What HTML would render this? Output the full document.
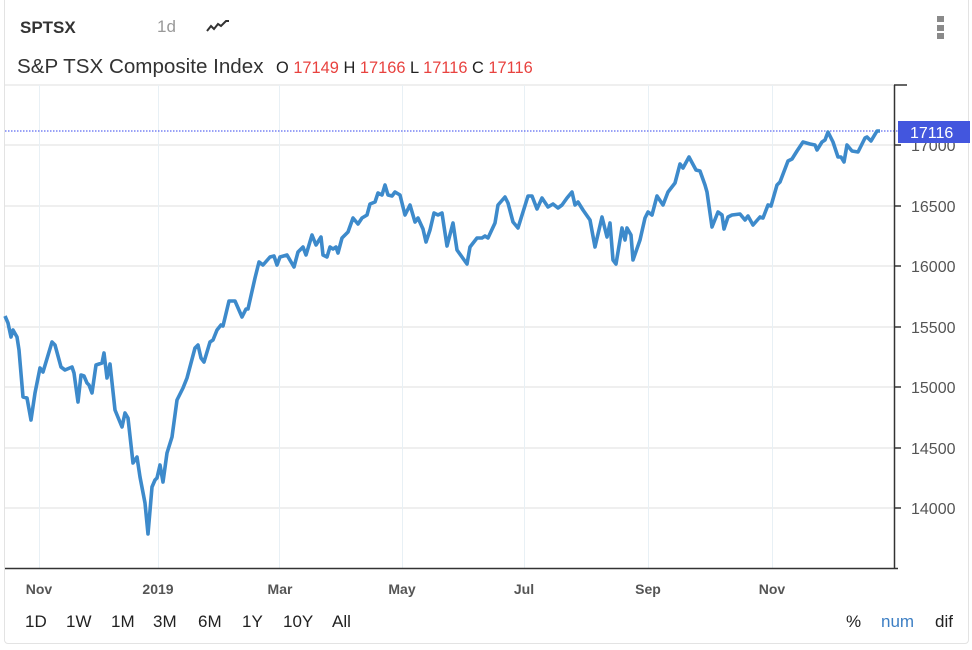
<!DOCTYPE html>
<html><head><meta charset="utf-8"><style>
html,body{margin:0;padding:0;background:#fff;}
body{width:972px;height:650px;position:relative;overflow:hidden;font-family:"Liberation Sans",sans-serif;}
.card{position:absolute;left:4px;top:-4px;width:965px;height:648px;border:1px solid #e3e3e3;border-radius:4px;box-sizing:border-box;}
.t{position:absolute;white-space:nowrap;}
</style></head><body>
<div class="card"></div>
<div class="t" style="left:20px;top:18px;font-size:17px;font-weight:bold;color:#333;">SPTSX</div>
<div class="t" style="left:157px;top:17px;font-size:17px;color:#999;">1d</div>
<svg class="t" style="left:205px;top:18px" width="26" height="16"><polyline points="2,13 6,8 9,11 13,6 16,8 21,3 24,3" fill="none" stroke="#333" stroke-width="2"/></svg>
<div class="t" style="left:937px;top:16px;width:7px;height:6px;background:#8a8a8a"></div>
<div class="t" style="left:937px;top:25px;width:7px;height:6px;background:#8a8a8a"></div>
<div class="t" style="left:937px;top:33px;width:7px;height:6px;background:#8a8a8a"></div>
<div class="t" style="left:17px;top:55px;font-size:20.6px;color:#333;">S&amp;P TSX Composite Index</div>
<div class="t" style="left:276px;top:59px;font-size:16.4px;color:#222;">O <span style="color:#e8423f">17149</span> H <span style="color:#e8423f">17166</span> L <span style="color:#e8423f">17116</span> C <span style="color:#e8423f">17116</span></div>
<svg class="t" style="left:0;top:0" width="972" height="650">
<g stroke="#eaeaea" stroke-width="1.5">
<line x1="5" y1="85" x2="894" y2="85"/><line x1="5" y1="145" x2="894" y2="145"/><line x1="5" y1="206" x2="894" y2="206"/><line x1="5" y1="266" x2="894" y2="266"/><line x1="5" y1="327" x2="894" y2="327"/><line x1="5" y1="387" x2="894" y2="387"/><line x1="5" y1="448" x2="894" y2="448"/><line x1="5" y1="508" x2="894" y2="508"/>
</g>
<g stroke="#e8f0f5" stroke-width="1">
<line x1="39.5" y1="85" x2="39.5" y2="568"/><line x1="158.5" y1="85" x2="158.5" y2="568"/><line x1="279.5" y1="85" x2="279.5" y2="568"/><line x1="402.5" y1="85" x2="402.5" y2="568"/><line x1="524.5" y1="85" x2="524.5" y2="568"/><line x1="648.5" y1="85" x2="648.5" y2="568"/><line x1="772.5" y1="85" x2="772.5" y2="568"/>
</g>
<line x1="5" y1="131" x2="898" y2="131" stroke="#3344ee" stroke-width="1" stroke-dasharray="1.5,1.5"/>
<polyline fill="none" stroke="#3d8acb" stroke-width="3.6" stroke-linejoin="round" points="5,316 8,323 11,337 13,330 17,337 19,350 23,397 27,398 31,420 35,393 40,368 43,372 52,342 55,345 61,367 65,370 72,367 74,373 78,402 81,375 84,376 87,383 89,385 92,393 96,365 102,363 104,353 107,378 110,364 115,410 122,427 125,413 128,418 133,463 137,457 140,477 145,503 148,534 152,487 155,480 157,478 160,465 163,482 167,453 172,437 177,400 183,388 187,378 195,348 198,345 201,358 204,362 210,342 213,340 217,330 221,325 223,326 229,301 235,301 242,317 246,309 248,309 255,278 259,262 263,265 270,257 274,256 277,265 280,257 287,255 294,267 298,252 303,247 306,255 312,235 316,245 321,237 323,255 327,257 330,247 333,249 336,247 338,253 342,238 348,232 353,218 358,224 362,218 367,215 370,204 375,202 378,193 382,195 385,185 388,195 392,196 395,192 400,195 405,215 410,205 415,222 418,218 423,229 426,242 430,230 434,213 438,215 442,213 447,246 453,223 457,250 462,257 467,264 470,247 477,238 482,238 485,236 488,238 495,223 498,205 505,197 508,203 513,222 518,228 528,196 532,196 537,209 542,198 548,207 553,204 558,208 562,205 567,198 572,192 575,205 578,202 583,210 590,220 595,247 602,217 607,237 610,223 613,260 616,264 622,228 625,240 627,228 631,235 633,260 640,240 645,218 648,212 652,215 657,196 663,205 668,192 675,183 680,164 683,168 689,157 696,170 700,171 705,185 707,192 712,227 718,212 722,215 724,229 728,217 732,215 740,214 745,220 748,216 753,225 760,217 763,218 768,205 771,206 777,185 780,182 788,161 792,159 797,151 803,142 810,144 815,145 817,150 822,142 825,140 828,132 833,142 838,157 841,157 844,162 847,145 852,151 858,152 865,138 867,137 871,141 877,131 880,131"/>
<g stroke="#333" stroke-width="1.5">
<line x1="894.5" y1="85" x2="894.5" y2="569"/><line x1="5" y1="568.5" x2="898" y2="568.5"/>
<line x1="894" y1="85" x2="907" y2="85"/>
<line x1="894" y1="145" x2="901" y2="145"/><line x1="894" y1="206" x2="901" y2="206"/><line x1="894" y1="266" x2="901" y2="266"/><line x1="894" y1="327" x2="901" y2="327"/><line x1="894" y1="387" x2="901" y2="387"/><line x1="894" y1="448" x2="901" y2="448"/><line x1="894" y1="508" x2="901" y2="508"/>
</g>
<g font-family="Liberation Sans, sans-serif" font-size="16" fill="#555">
<text x="911" y="151">17000</text><text x="911" y="212">16500</text><text x="911" y="272">16000</text><text x="911" y="333">15500</text><text x="911" y="393">15000</text><text x="911" y="454">14500</text><text x="911" y="514">14000</text>
</g>
<rect x="898" y="121" width="72" height="22" fill="#4356de"/>
<text x="910" y="138" font-family="Liberation Sans, sans-serif" font-size="16" fill="#fff">17116</text>
<g font-family="Liberation Sans, sans-serif" font-size="14" font-weight="bold" fill="#555" text-anchor="middle">
<text x="39" y="594">Nov</text><text x="158" y="594">2019</text><text x="280" y="594">Mar</text><text x="402" y="594">May</text><text x="524" y="594">Jul</text><text x="648" y="594">Sep</text><text x="772" y="594">Nov</text>
</g>
<g font-family="Liberation Sans, sans-serif" font-size="17" fill="#222">
<text x="25" y="627">1D</text><text x="66" y="627">1W</text><text x="111" y="627">1M</text><text x="153" y="627">3M</text><text x="198" y="627">6M</text><text x="242" y="627">1Y</text><text x="283" y="627">10Y</text><text x="332" y="627">All</text>
<text x="846" y="627">%</text><text x="881" y="627" fill="#3d7fc4">num</text><text x="935" y="627">dif</text>
</g>
</svg>
</body></html>
